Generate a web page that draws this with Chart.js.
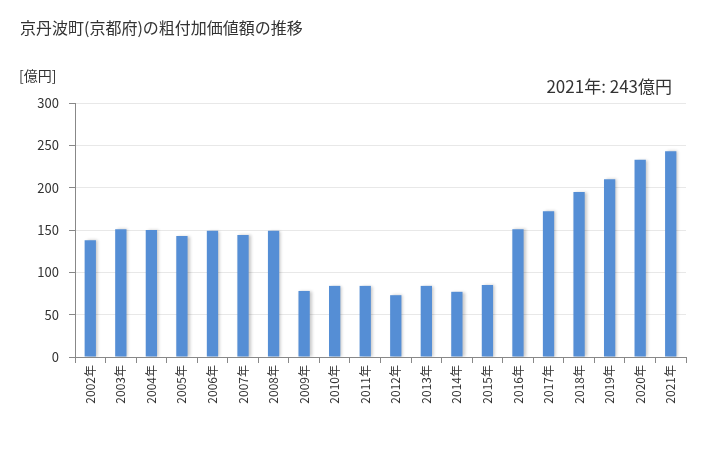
<!DOCTYPE html>
<html>
<head>
<meta charset="utf-8">
<script src="https://cdn.jsdelivr.net/npm/chart.js@4"></script>
<style>
  html, body { margin: 0; padding: 0; background: #fff; }
  #wrap { width: 728px; height: 450px; }
</style>
</head>
<body>
<div id="wrap"><canvas id="barChart" width="728" height="450"></canvas></div>
<script>
var years = ["2002年", "2003年", "2004年", "2005年", "2006年", "2007年", "2008年", "2009年", "2010年", "2011年",
  "2012年", "2013年", "2014年", "2015年", "2016年", "2017年", "2018年", "2019年", "2020年", "2021年"];
var values = [138, 151, 150, 143, 149, 144, 149, 78, 84, 84,
  73, 84, 77, 85, 151, 172, 195, 210, 233, 243];
var yTicks = [0, 50, 100, 150, 200, 250, 300];

var titleText = "京丹波町(京都府)の粗付加価値額の推移";
var unitText = "[億円]";
var noteText = "2021年: 243億円";
var fontFamily = "'Noto Sans CJK JP', 'Noto Sans', sans-serif";

var textPlugin = {
  id: "texts",
  afterDraw: function (chart) {
    var ctx = chart.ctx;
    ctx.save();
    ctx.fillStyle = "#333";
    ctx.textBaseline = "middle";
    ctx.font = "16px " + fontFamily;
    ctx.textAlign = "left";
    ctx.fillText(titleText, 20, 28);
    ctx.font = "14px " + fontFamily;
    ctx.fillText(unitText, 19, 76);
    ctx.font = "17px " + fontFamily;
    ctx.textAlign = "right";
    ctx.fillText(noteText, 672, 87);
    ctx.restore();
  }
};

var shadowPlugin = {
  id: "barShadow",
  beforeDatasetDraw: function (chart) {
    var ctx = chart.ctx;
    ctx.save();
    ctx.shadowColor = "rgba(0,0,0,0.22)";
    ctx.shadowOffsetX = 2;
    ctx.shadowOffsetY = 0;
    ctx.shadowBlur = 3;
  },
  afterDatasetDraw: function (chart) {
    chart.ctx.restore();
  }
};

var ctx = document.getElementById("barChart").getContext("2d");
var barChart = new Chart(ctx, {
  type: "bar",
  data: {
    labels: years,
    datasets: [
      {
        label: "粗付加価値額",
        data: values,
        backgroundColor: "#558ed5",
        borderWidth: 0,
        barPercentage: 0.37,
        categoryPercentage: 1.0
      }
    ]
  },
  options: {
    responsive: false,
    animation: false,
    layout: { padding: { top: 103, right: 42, left: 0, bottom: 0 } },
    plugins: {
      legend: { display: false },
      tooltip: { enabled: false }
    },
    scales: {
      x: {
        grid: { drawOnChartArea: false, color: "#888", tickLength: 6, offset: true },
        border: { color: "#888" },
        ticks: {
          color: "#333",
          font: { family: fontFamily, size: 12 },
          maxRotation: 90,
          minRotation: 90,
          padding: 2
        },
        afterFit: function (scale) { scale.height = 93; }
      },
      y: {
        min: 0,
        max: 300,
        afterBuildTicks: function (scale) {
          scale.ticks = yTicks.map(function (v) { return { value: v }; });
        },
        grid: { color: "#e8e8e8", tickLength: 6, tickColor: "#888" },
        border: { color: "#888" },
        ticks: {
          color: "#333",
          font: { family: fontFamily, size: 13 },
          padding: 10
        },
        afterFit: function (scale) { scale.width = 75; }
      }
    }
  },
  plugins: [shadowPlugin, textPlugin]
});
</script>
</body>
</html>
